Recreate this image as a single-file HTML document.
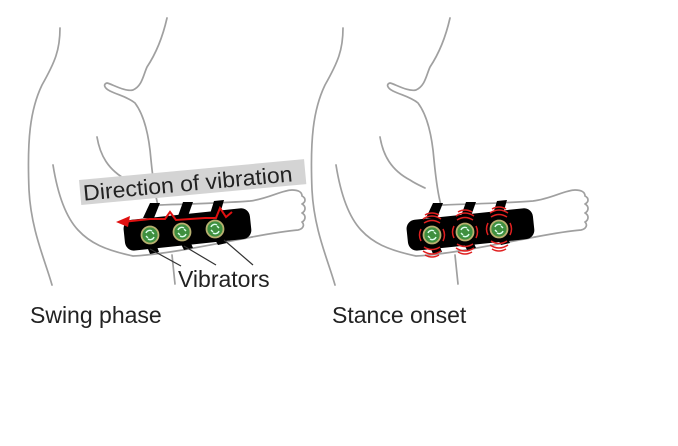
<!DOCTYPE html>
<html><head><meta charset="utf-8"><style>
html,body{margin:0;padding:0;background:#fff;}
svg{display:block;}
text{font-family:"Liberation Sans",sans-serif;fill:#222;}
</style></head><body>
<svg width="678" height="446" viewBox="0 0 678 446" xmlns="http://www.w3.org/2000/svg">
<defs>
<g id="body" fill="none" stroke="#a0a0a0" stroke-width="1.7" stroke-linecap="round" stroke-linejoin="round">
  <path d="M60,28 C60,50 55,62 42,85 C30,110 27,140 29,190 C31,230 45,260 52,285"/>
  <path d="M167,18 C162,40 155,55 147,67 C143,76 142,86 133,90 C125,92 112,84 107,83 C103,84 104,88 110,91 C118,95 128,97 135,103 C144,115 149,135 151,160 C153,180 155,195 158,205"/>
  <path d="M97,137 C100,155 108,170 127,180 C133,184 138,186 142,188"/>
  <path d="M158,205 C190,204 225,203 250,201 C268,199 282,190 292,190 C298,190 302,192 302,196 C306,198 306,202 302,204 C306,206 306,211 302,213 C306,215 306,220 302,222 C305,225 303,229 298,230 C285,231 268,234 252,237"/>
  <path d="M53,165 C57,190 64,215 78,230 C90,243 105,250 133,256 C160,255 200,247 252,237"/>
  <path d="M172,255 C173,265 174,275 175,284"/>
</g>
<g id="band">
  <polygon points="150,203 160,203 154,218 143,218" fill="#000"/>
  <polygon points="183,202 193,202 188,216 178,216" fill="#000"/>
  <polygon points="214,201 224,200 220,214 210,214" fill="#000"/>
  <polygon points="146,244 156,244 159,252 150,254" fill="#000"/>
  <polygon points="180,242 190,241 193,248 184,250" fill="#000"/>
  <polygon points="214,238 224,237 227,243 218,245" fill="#000"/>
  <rect x="124" y="214" width="127" height="31" rx="9" fill="#000" transform="rotate(-6 187 230)"/>
</g>
<g id="vib">
  <circle r="8.5" fill="#3f8f3f" stroke="#b8b070" stroke-width="1.8"/>
  <path d="M-4,-2 a4,4 0 0 1 6,-2 M4,2 a4,4 0 0 1 -6,2 M-2,3 l-2,-2 M2,-3 l2,2" stroke="#dfe" stroke-width="1.4" fill="none"/>
</g>
<g id="waves" fill="none" stroke="#e02020" stroke-width="1.5">
  <path d="M-8,-12 q8,-5 16,0 M-9,-16 q9,-6 18,0 M-7,-20 q7,-4 14,0"/>
  <path d="M-8,12 q8,5 16,0 M-9,16 q9,6 18,0 M-7,20 q7,4 14,0"/>
  <path d="M-11,-6 q-3,6 0,12 M11,-6 q3,6 0,12"/>
</g>
</defs>

<!-- left -->
<use href="#body"/>
<rect x="80" y="180" width="226" height="25" fill="#d4d4d4" transform="rotate(-5.3 80 191)"/>
<text x="83" y="201" font-size="22" textLength="210" lengthAdjust="spacingAndGlyphs" transform="rotate(-5.3 80 191)">Direction of vibration</text>
<use href="#band"/>
<use href="#vib" x="150" y="235"/>
<use href="#vib" x="182" y="232"/>
<use href="#vib" x="215" y="229"/>
<path d="M122,222 L150,219 L165,219 L170,212 L176,220 L205,218 L216,218 L220,208 L226,217 L232,212" fill="none" stroke="#e01010" stroke-width="2"/>
<polygon points="116,222 130,216 128,227" fill="#e01010"/>
<g stroke="#333" stroke-width="1.2">
  <line x1="150" y1="249" x2="181" y2="266"/>
  <line x1="184" y1="246" x2="216" y2="265"/>
  <line x1="224" y1="240" x2="253" y2="265"/>
</g>
<text x="178" y="287" font-size="23">Vibrators</text>
<text x="30" y="323" font-size="23">Swing phase</text>

<!-- right -->
<g transform="translate(283,0)">
  <use href="#body"/>
  <use href="#band"/>
</g>
<use href="#vib" x="432" y="235"/>
<use href="#vib" x="465" y="232"/>
<use href="#vib" x="499" y="229"/>
<use href="#waves" x="432" y="235"/>
<use href="#waves" x="465" y="232"/>
<use href="#waves" x="499" y="229"/>
<text x="332" y="323" font-size="23">Stance onset</text>
</svg>
</body></html>
